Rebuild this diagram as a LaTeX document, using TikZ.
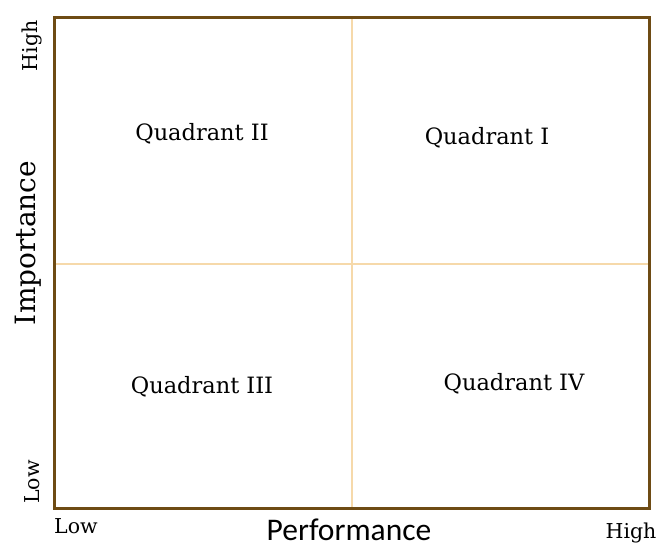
\documentclass[tikz,border=0pt]{standalone}
\usepackage{fontspec}
\setmainfont{DejaVu Serif}
\newfontfamily\axisfont{Carlito}
\definecolor{framebrown}{HTML}{6E4B14}
\definecolor{gridtan}{HTML}{F6D9AA}
\tikzset{
  quad/.style={font=\fontsize{22.5}{26}\selectfont},
  tick/.style={font=\fontsize{20.5}{24}\selectfont},
  axis/.style={font=\fontsize{28}{32}\selectfont},
  xaxis/.style={font=\axisfont\fontsize{31.5}{36}\selectfont}
}
\begin{document}
\begin{tikzpicture}[x=1pt,y=-1pt,line cap=rect]
  \useasboundingbox (0,0) rectangle (659,544);
  % corners of the grid
  \coordinate (nw) at (54,17);
  \coordinate (se) at (649,508);
  \coordinate (top) at (352,17);
  \coordinate (bot) at (352,508);
  \coordinate (lft) at (54,264);
  \coordinate (rgt) at (649,264);
  % midlines
  \draw[gridtan,line width=1.6pt] (top) -- (bot);
  \draw[gridtan,line width=1.6pt] (lft) -- (rgt);
  \draw[framebrown,line width=3pt] (nw) rectangle (se);
  % quadrant names
  \node[quad] (q2) at (202,134) {Quadrant II};
  \node[quad] (q1) at (487,138) {Quadrant I};
  \node[quad] (q3) at (202,387) {Quadrant III};
  \node[quad] (q4) at (514,384) {Quadrant IV};
  % ends of the axes
  \node[tick,rotate=90] (yhi) at (32,46) {High};
  \node[tick,rotate=90] (ylo) at (32,482) {Low};
  \node[tick] (xlo) at (76,526) {Low};
  \node[tick] (xhi) at (631,533) {High};
  % axis titles
  \node[xaxis] (xlab) at (349,530) {Performance};
  \node[axis,rotate=90] (ylab) at (28,243) {Importance};
\end{tikzpicture}
\end{document}
